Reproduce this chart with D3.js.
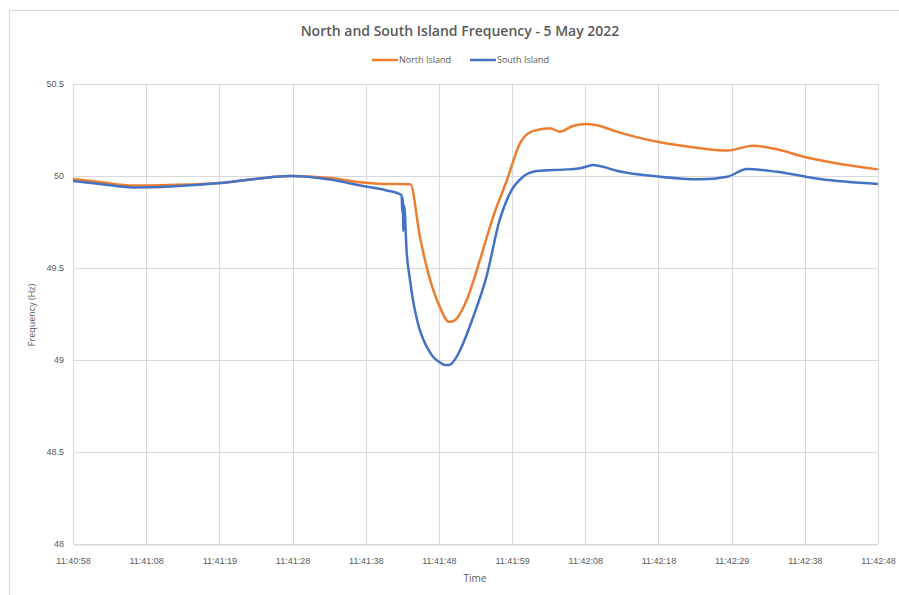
<!DOCTYPE html>
<html>
  <head>
    <meta charset="utf-8">
    <title>North and South Island Frequency</title>
    <script src="https://d3js.org/d3.v7.min.js"></script>
    <style>
      body { margin: 0; background: #fff; }
      svg { display: block; font-family: "Open Sans", "Liberation Sans", sans-serif; }
    </style>
  </head>
  <body>
    <div id="chart"></div>
    <script>
      // tick labels along the time axis (one every ~10 s)
      var tickLabels = ["11:40:58", "11:41:08", "11:41:19", "11:41:28", "11:41:38", "11:41:48",
                        "11:41:59", "11:42:08", "11:42:18", "11:42:29", "11:42:38", "11:42:48"];
      var yTicks = [48, 48.5, 49, 49.5, 50, 50.5];

      // seconds after 11:40:58
      var northT  = [0, 3.7, 8.2, 13.3, 20.1, 24.9, 29.7, 35.1, 39.6, 42.6, 46.1, 47.4, 48.8, 50.1, 51.4,
                     52.2, 53.8, 55.6, 57.4, 59.3, 61.1, 62.9, 65.2, 66.5, 68.3, 70.2, 72.0, 74.3, 80.2,
                     85.7, 89.4, 92.9, 96.2, 99.8, 103.9, 110];
      var northHz = [49.984, 49.967, 49.948, 49.951, 49.962, 49.984, 50.0, 49.989, 49.965, 49.957, 49.955,
                     49.67, 49.435, 49.29, 49.207, 49.217, 49.326, 49.543, 49.777, 49.978, 50.179, 50.245,
                     50.259, 50.241, 50.272, 50.283, 50.272, 50.241, 50.183, 50.151, 50.138, 50.165, 50.145,
                     50.105, 50.072, 50.036];

      var southT  = [0, 3.7, 8.2, 13.3, 20.1, 24.9, 29.7, 35.1, 39.6, 42.6, 44.9, 45.0, 45.05, 45.15, 45.25,
                     45.6, 46.05, 46.4, 46.8, 47.3, 47.9, 48.5, 49.2, 50.0, 50.8, 51.4, 52.4, 52.9, 54.7,
                     56.5, 58.3, 59.7, 61.5, 63.4, 67.5, 69.3, 71.1, 72.0, 74.3, 80.2, 85.7, 89.4, 92.1,
                     96.2, 102.1, 110];
      var southHz = [49.973, 49.957, 49.938, 49.943, 49.962, 49.984, 50.0, 49.981, 49.946, 49.924, 49.897,
                     49.80, 49.88, 49.70, 49.84, 49.582, 49.435, 49.34, 49.255, 49.175, 49.109, 49.06,
                     49.018, 48.99, 48.973, 48.973, 49.016, 49.054, 49.235, 49.453, 49.761, 49.906, 49.996,
                     50.027, 50.036, 50.042, 50.060, 50.054, 50.029, 49.996, 49.982, 49.996, 50.038, 50.023,
                     49.984, 49.957];

      var width = 899, height = 595;
      var margin = {top: 84, right: 21, bottom: 51, left: 73};

      var svg = d3.select("#chart").append("svg")
          .attr("width", width)
          .attr("height", height);

      // chart frame (only top and left edges are inside the picture)
      svg.append("rect")
          .attr("x", 9.5).attr("y", 10.5)
          .attr("width", 920).attr("height", 620)
          .attr("fill", "none")
          .attr("stroke", "#d9d9d9");

      var x = d3.scaleLinear().domain([0, 110]).range([margin.left, width - margin.right]);
      var y = d3.scaleLinear().domain([48, 50.5]).range([height - margin.bottom, margin.top]);
      var tickSecs = tickLabels.map(function(d, i) { return i * 10; });

      // gridlines
      svg.append("g").selectAll("line").data(yTicks).enter().append("line")
          .attr("x1", x(0)).attr("x2", x(110))
          .attr("y1", function(d) { return Math.round(y(d)) + 0.5; })
          .attr("y2", function(d) { return Math.round(y(d)) + 0.5; })
          .attr("stroke", "#d9d9d9");
      svg.append("g").selectAll("line").data(tickSecs).enter().append("line")
          .attr("y1", y(48)).attr("y2", y(50.5))
          .attr("x1", function(d) { return Math.round(x(d)) + 0.5; })
          .attr("x2", function(d) { return Math.round(x(d)) + 0.5; })
          .attr("stroke", "#d9d9d9");

      // axes
      var xAxis = svg.append("g")
          .attr("transform", "translate(0," + (Math.round(y(48)) + 0.5) + ")")
          .call(d3.axisBottom(x).tickValues(tickSecs)
              .tickFormat(function(d, i) { return tickLabels[i]; })
              .tickSize(0).tickPadding(13));
      xAxis.select(".domain").attr("stroke", "#d9d9d9");
      xAxis.selectAll("text").attr("fill", "#595959").style("font-size", "9px");

      var yAxis = svg.append("g")
          .attr("transform", "translate(" + (x(0) - 9) + ",0)")
          .call(d3.axisLeft(y).tickValues(yTicks).tickFormat(d3.format("")).tickSize(0).tickPadding(0));
      yAxis.select(".domain").remove();
      yAxis.selectAll("text").attr("fill", "#595959").style("font-size", "9px");

      // lines
      var line = d3.line()
          .x(function(d) { return x(d[0]); })
          .y(function(d) { return y(d[1]); })
          .curve(d3.curveMonotoneX);

      var north = northT.map(function(t, i) { return [t, northHz[i]]; });
      var south = southT.map(function(t, i) { return [t, southHz[i]]; });

      svg.append("path").datum(north)
          .attr("d", line)
          .attr("fill", "none")
          .attr("stroke", "#ED7D31")
          .attr("stroke-width", 2.5);
      svg.append("path").datum(south)
          .attr("d", line)
          .attr("fill", "none")
          .attr("stroke", "#4472C4")
          .attr("stroke-width", 2.5);

      // title
      svg.append("text")
          .attr("x", 460).attr("y", 36)
          .attr("text-anchor", "middle")
          .attr("fill", "#595959")
          .style("font-size", "14px")
          .style("font-weight", "600")
          .text("North and South Island Frequency - 5 May 2022");

      // legend
      var legend = [["North Island", "#ED7D31", 372], ["South Island", "#4472C4", 470]];
      legend.forEach(function(l) {
        svg.append("line")
            .attr("x1", l[2]).attr("x2", l[2] + 26)
            .attr("y1", 60).attr("y2", 60)
            .attr("stroke", l[1]).attr("stroke-width", 2.5);
        svg.append("text")
            .attr("x", l[2] + 27).attr("y", 63)
            .attr("fill", "#595959")
            .style("font-size", "9px")
            .text(l[0]);
      });

      // axis titles
      svg.append("text")
          .attr("x", 475).attr("y", 582)
          .attr("text-anchor", "middle")
          .attr("fill", "#595959")
          .style("font-size", "10px")
          .text("Time");
      svg.append("text")
          .attr("transform", "translate(35,315) rotate(-90)")
          .attr("text-anchor", "middle")
          .attr("fill", "#595959")
          .style("font-size", "9px")
          .text("Frequency (Hz)");
    </script>
  </body>
</html>
